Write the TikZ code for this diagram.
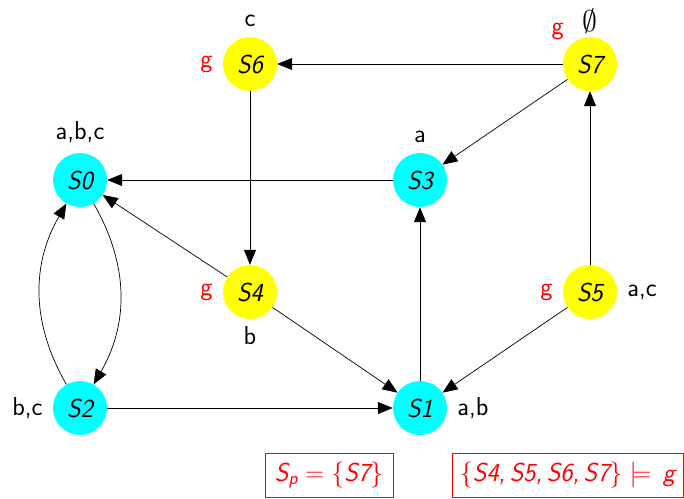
\RequirePackage{fix-cm}
\documentclass[tikz,border=0pt]{standalone}
\usetikzlibrary{arrows.meta,positioning,shapes.geometric}
\definecolor{statecyan}{HTML}{00FFFF}
\definecolor{stateyellow}{HTML}{FFFF00}
\definecolor{markred}{HTML}{FF0000}
\newcommand{\diagfont}{\fontsize{26}{31}\selectfont\sffamily}
\tikzset{
    state/.style={
        circle, fill=#1, minimum size=54pt,
        inner sep=0pt, font=\diagfont\itshape
    },
    state/.default={statecyan},
    transition/.style={
        -{Triangle[length=15pt,width=12pt]}, line width=0.7pt, black
    },
    result box/.style={
        rectangle, draw=markred, text=markred, line width=0.6pt,
        minimum height=44pt, inner xsep=4pt, font=\diagfont
    },
    every label/.style={font=\diagfont, inner sep=2pt},
    label distance=8pt,
}

\begin{document}
\begin{tikzpicture}[x=1pt, y=-1pt]

    \useasboundingbox (0,0) rectangle (684,498);

    % states (cyan: not g, yellow: g)
    \node[state, label={above:{a,b,c}}] (s0) at (80,180) {S0};
    \node[state, label={right:{a,b}}] (s1) at (420,408) {S1};
    \node[state, label={left:{b,c}}] (s2) at (80,408) {S2};
    \node[state, label={above:a}] (s3) at (420,180) {S3};
    \node[state=stateyellow, label={[label distance=5pt]below:b},
          label={[text=markred]left:g}] (s4) at (250,292) {S4};
    \node[state=stateyellow, label={right:{a,c}},
          label={[text=markred]left:g}] (s5) at (590,292) {S5};
    \node[state=stateyellow, label={above:c},
          label={[text=markred]left:g}] (s6) at (250,64) {S6};
    \node[state=stateyellow, label={[label distance=1pt]above:\scalebox{1.15}{$\emptyset$}},
          label={[text=markred, label distance=5pt]138:g}] (s7) at (590,64) {S7};

    % transitions
    \draw[transition] (s7) -- (s6);
    \draw[transition] (s7) -- (s3);
    \draw[transition] (s3) -- (s0);
    \draw[transition] (s6) -- (s4);
    \draw[transition] (s4) -- (s0);
    \draw[transition] (s4) -- (s1);
    \draw[transition] (s0) to[bend left=30] (s2);
    \draw[transition] (s2) to[bend left=30] (s0);
    \draw[transition] (s2) -- (s1);
    \draw[transition] (s1) -- (s3);
    \draw[transition] (s5) -- (s7);
    \draw[transition] (s5) -- (s1);

    % results
    \node[result box, minimum width=128pt] (sp) at (329,475)
        {\itshape S\textsubscript{p}\upshape{}\;=\;\{\itshape S7\upshape\}};
    \node[result box, minimum width=231pt] (sat) at (567.5,475)
        {\{\itshape S4,\,S5,\,S6,\,S7\upshape\}\;$\models$\;\,\itshape g};

\end{tikzpicture}
\end{document}
